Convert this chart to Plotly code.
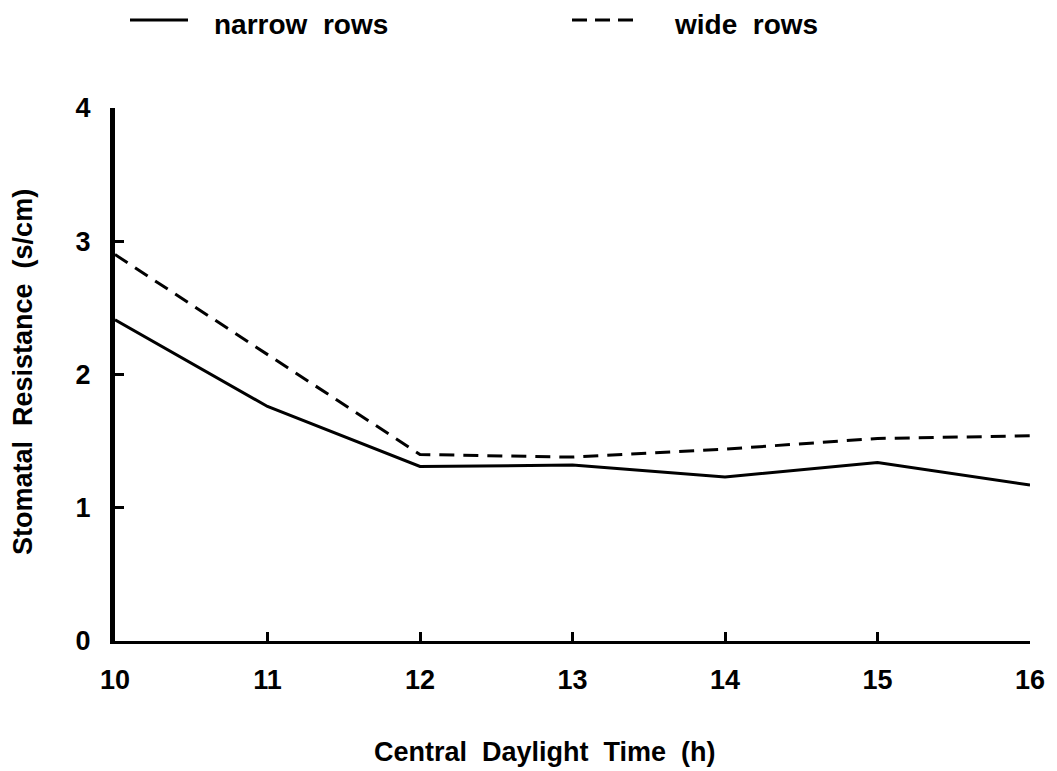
import plotly.graph_objects as go

# Data
hours = [10, 11, 12, 13, 14, 15, 16]
narrow_rows = [2.41, 1.76, 1.31, 1.32, 1.23, 1.34, 1.17]
wide_rows = [2.90, 2.15, 1.40, 1.38, 1.44, 1.52, 1.54]
x_ticks = [10, 11, 12, 13, 14, 15, 16]
y_ticks = [0, 1, 2, 3, 4]

W, H = 1057, 771
L, R, T, B = 115, 27, 108, 130
PW, PH = W - L - R, H - T - B

def px(x):
    return (x - L) / PW

def py(y):
    return 1 - (y - T) / PH

FONT = "Liberation Sans, Arial, sans-serif"
NB = "\u00a0"

fig = go.Figure()
fig.add_trace(go.Scatter(x=hours, y=narrow_rows, mode="lines", name="narrow rows",
                         line=dict(color="black", width=3), showlegend=False))
fig.add_trace(go.Scatter(x=hours, y=wide_rows, mode="lines", name="wide rows",
                         line=dict(color="black", width=3, dash="15px,9px"), showlegend=False))

axis_common = dict(showgrid=False, zeroline=False, showline=True, linecolor="black",
                   ticks="inside", tickcolor="black", tickwidth=3, ticklen=9,
                   tickfont=dict(family=FONT, size=27, color="black", weight="bold"))

fig.update_xaxes(range=[10, 16], tickvals=x_ticks, linewidth=3,
                 ticklabelstandoff=13, **axis_common)
fig.update_yaxes(range=[0, 4], tickvals=y_ticks, linewidth=5,
                 ticklabelstandoff=14, **axis_common)

# Axis titles
fig.add_annotation(x=px(545), y=py(752), xref="paper", yref="paper",
                   xanchor="center", yanchor="middle",
                   text=f"Central{NB}{NB}Daylight{NB}{NB}Time{NB}{NB}(h)", showarrow=False,
                   font=dict(family=FONT, size=27, color="black", weight="bold"))
fig.add_annotation(x=px(23), y=py(372), xref="paper", yref="paper", textangle=-90,
                   xanchor="center", yanchor="middle",
                   text=f"Stomatal{NB}{NB}Resistance{NB}{NB}(s/cm)", showarrow=False,
                   font=dict(family=FONT, size=27, color="black", weight="bold"))

# Legend (drawn manually)
fig.add_shape(type="line", xref="paper", yref="paper", x0=px(130), x1=px(188),
              y0=py(20), y1=py(20), line=dict(color="black", width=3))
fig.add_annotation(x=px(212), y=py(24), xref="paper", yref="paper",
                   xanchor="left", yanchor="middle",
                   text=f"narrow{NB}{NB}rows", showarrow=False,
                   font=dict(family=FONT, size=28, color="black", weight="bold"))
fig.add_shape(type="line", xref="paper", yref="paper", x0=px(572), x1=px(633),
              y0=py(20), y1=py(20), line=dict(color="black", width=3, dash="15px,8px"))
fig.add_annotation(x=px(672), y=py(24), xref="paper", yref="paper",
                   xanchor="left", yanchor="middle",
                   text=f"wide{NB}{NB}rows", showarrow=False,
                   font=dict(family=FONT, size=28, color="black", weight="bold"))

fig.update_layout(width=W, height=H, margin=dict(l=L, r=R, t=T, b=B),
                  plot_bgcolor="white", paper_bgcolor="white", showlegend=False)

fig.write_html("out.html", config={"displayModeBar": False},
               post_script="document.body.style.margin='0';document.body.style.overflow='hidden';")
